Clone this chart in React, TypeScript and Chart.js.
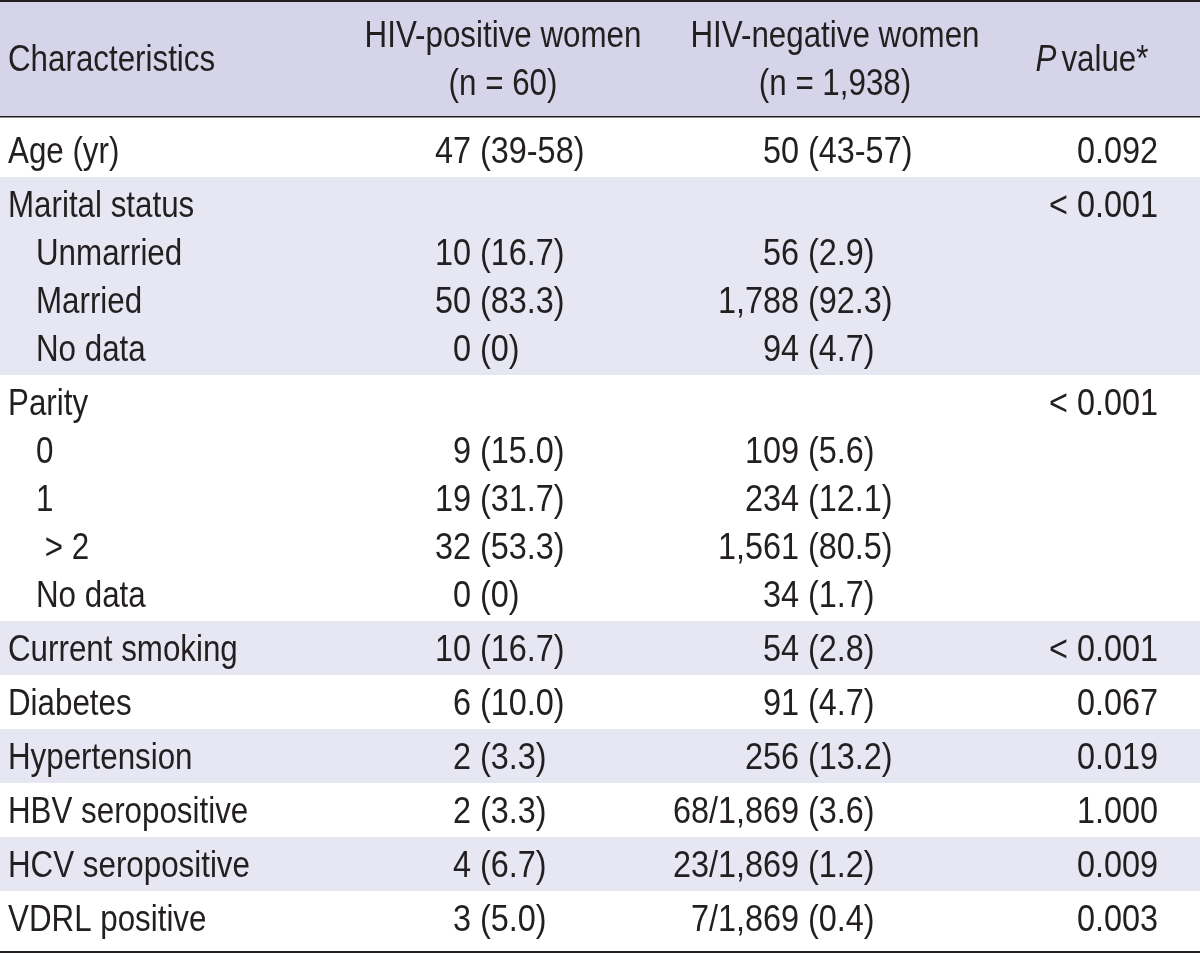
import React, { useEffect, useRef } from "react";
import { Chart, registerables } from "chart.js";

Chart.register(...registerables);

// ---------- data ----------
const headerColumns = ["Characteristics", "HIV-positive women", "HIV-negative women", "P value*"];
const headerSubLines = ["", "(n = 60)", "(n = 1,938)", ""];

const rowLabels = [
  "Age (yr)",
  "Marital status",
  "Unmarried",
  "Married",
  "No data",
  "Parity",
  "0",
  "1",
  " > 2",
  "No data",
  "Current smoking",
  "Diabetes",
  "Hypertension",
  "HBV seropositive",
  "HCV seropositive",
  "VDRL positive",
];
const rowGroups = [0, 1, 1, 1, 1, 2, 2, 2, 2, 2, 3, 4, 5, 6, 7, 8];

const hivPositive = [
  "47 (39-58)", "", "10 (16.7)", "50 (83.3)", "0 (0)", "", "9 (15.0)", "19 (31.7)",
  "32 (53.3)", "0 (0)", "10 (16.7)", "6 (10.0)", "2 (3.3)", "2 (3.3)", "4 (6.7)", "3 (5.0)",
];
const hivNegative = [
  "50 (43-57)", "", "56 (2.9)", "1,788 (92.3)", "94 (4.7)", "", "109 (5.6)", "234 (12.1)",
  "1,561 (80.5)", "34 (1.7)", "54 (2.8)", "91 (4.7)", "256 (13.2)", "68/1,869 (3.6)",
  "23/1,869 (1.2)", "7/1,869 (0.4)",
];
const pValues = [
  "0.092", "< 0.001", "", "", "", "< 0.001", "", "", "", "", "< 0.001", "0.067",
  "0.019", "1.000", "0.009", "0.003",
];

// ---------- layout & style ----------
const W = 1200;
const H = 953;
const HEADER_H = 116;
const BODY_TOP = 123;
const LINE_H = 48;
const GROUP_PAD = 3;
const HEADER_BG = "rgb(213,212,233)";
const ROW_BG = "rgb(231,230,243)";
const INK = "#231f20";
const FONT_PX = 36;
const SX_TEXT = 0.87;
const SX_VAL = 0.9;
const FAMILY = '"Liberation Sans", Arial, sans-serif';

const COL0_X = 8;
const SUB_X = 36;
const COL1_PAREN = 480;
const COL2_PAREN = 808;
const COL3_RIGHT = 1158;
const HEAD_CENTERS = [0, 503, 835, 1092];
const P_GAP = 5;

// group geometry derived from structure
const groupCount = Math.max(...rowGroups) + 1;
const groupLines = Array.from({ length: groupCount }, (_, g) => rowGroups.filter((r) => r === g).length);
const groupTops: number[] = [];
{
  let y = BODY_TOP;
  for (let g = 0; g < groupCount; g++) {
    groupTops.push(y);
    y += GROUP_PAD * 2 + groupLines[g] * LINE_H;
  }
}
const groupBottom = (g: number) => groupTops[g] + GROUP_PAD * 2 + groupLines[g] * LINE_H;
const rowCenters = rowLabels.map((_, i) => {
  const g = rowGroups[i];
  const idx = rowGroups.slice(0, i).filter((r) => r === g).length;
  return groupTops[g] + GROUP_PAD + LINE_H / 2 + idx * LINE_H;
});
const bodyBottom = groupBottom(groupCount - 1) + 6;

function measure(ctx: CanvasRenderingContext2D, text: string, sx: number, italic = false) {
  ctx.font = `${italic ? "italic " : ""}${FONT_PX}px ${FAMILY}`;
  return ctx.measureText(text).width * sx;
}

function drawText(
  ctx: CanvasRenderingContext2D,
  text: string,
  x: number,
  cy: number,
  align: "left" | "right" | "center",
  sx: number = SX_TEXT,
  italic = false
) {
  if (!text) return;
  const w = measure(ctx, text, sx, italic);
  const left = align === "left" ? x : align === "right" ? x - w : x - w / 2;
  ctx.save();
  ctx.translate(left, cy + FONT_PX * 0.358);
  ctx.scale(sx, 1);
  ctx.textAlign = "left";
  ctx.textBaseline = "alphabetic";
  ctx.fillStyle = INK;
  ctx.fillText(text, 0, 0);
  ctx.restore();
}

function drawParenAligned(ctx: CanvasRenderingContext2D, text: string, anchor: number, cy: number) {
  if (!text) return;
  const k = text.indexOf("(");
  if (k < 0) {
    drawText(ctx, text, anchor, cy, "right", SX_VAL);
    return;
  }
  drawText(ctx, text.slice(0, k), anchor, cy, "right", SX_VAL);
  drawText(ctx, text.slice(k), anchor, cy, "left", SX_VAL);
}

const tablePlugin = {
  id: "tableText",
  afterDatasetsDraw(chart: any) {
    const ctx: CanvasRenderingContext2D = chart.ctx;
    const xs = chart.scales.xPos;
    const ys = chart.scales.y;
    const px = (v: number) => xs.getPixelForValue(v);
    const py = (v: number) => ys.getPixelForValue(v);

    // rules
    ctx.save();
    ctx.fillStyle = INK;
    const rule = (y: number, t: number) => ctx.fillRect(px(0), py(y), px(W) - px(0), t);
    rule(0, 2);
    rule(HEADER_H, 1.5);
    rule(bodyBottom, 2);
    ctx.restore();

    // header
    const headMid = HEADER_H / 2;
    drawText(ctx, headerColumns[0], px(COL0_X), py(headMid), "left");
    for (let c = 1; c <= 2; c++) {
      drawText(ctx, headerColumns[c], px(HEAD_CENTERS[c]), py(headMid - LINE_H / 2), "center");
      drawText(ctx, headerSubLines[c], px(HEAD_CENTERS[c]), py(headMid + LINE_H / 2), "center");
    }
    // P value* with italic P
    {
      const full = headerColumns[3];
      const pPart = full.slice(0, 1);
      const rest = full.slice(1).trim();
      const w1 = measure(ctx, pPart, SX_TEXT, true);
      const w2 = measure(ctx, rest, SX_TEXT, false);
      const start = px(HEAD_CENTERS[3]) - (w1 + P_GAP + w2) / 2;
      drawText(ctx, pPart, start, py(headMid), "left", SX_TEXT, true);
      drawText(ctx, rest, start + w1 + P_GAP, py(headMid), "left", SX_TEXT);
    }

    // body
    rowLabels.forEach((label, i) => {
      const g = rowGroups[i];
      const isSub = rowGroups.indexOf(g) !== i;
      const cy = py(rowCenters[i]);
      drawText(ctx, label, px(isSub ? SUB_X : COL0_X), cy, "left");
      drawParenAligned(ctx, hivPositive[i], px(COL1_PAREN), cy);
      drawParenAligned(ctx, hivNegative[i], px(COL2_PAREN), cy);
      drawText(ctx, pValues[i], px(COL3_RIGHT), cy, "right", SX_VAL);
    });
  },
};

export default function App() {
  const ref = useRef<HTMLCanvasElement | null>(null);

  useEffect(() => {
    document.body.style.margin = "0";
    document.body.style.background = "#ffffff";
    if (!ref.current) return;

    const bands: { range: [number, number]; color: string }[] = [
      { range: [0, HEADER_H], color: HEADER_BG },
    ];
    for (let g = 0; g < groupCount; g++) {
      if (g % 2 === 1) bands.push({ range: [groupTops[g], groupBottom(g)], color: ROW_BG });
    }

    const chart = new Chart(ref.current, {
      type: "bar",
      data: {
        labels: ["table"],
        datasets: bands.map((b, i) => ({
          label: `band${i}`,
          data: [b.range] as any,
          backgroundColor: b.color,
          borderWidth: 0,
          grouped: false,
          barPercentage: 1,
          categoryPercentage: 1,
          inflateAmount: 0,
        })) as any,
      },
      options: {
        animation: false,
        responsive: false,
        devicePixelRatio: 1,
        layout: { padding: 0 },
        events: [],
        plugins: {
          legend: { display: false },
          tooltip: { enabled: false },
          title: { display: false },
        },
        scales: {
          x: { type: "category", display: false, offset: true },
          xPos: {
            type: "linear",
            axis: "x",
            position: "bottom",
            display: false,
            offset: false,
            grid: { offset: false },
            min: 0,
            max: W,
          },
          y: { type: "linear", display: false, min: 0, max: H, reverse: true },
        } as any,
      },
      plugins: [tablePlugin],
    });
    return () => chart.destroy();
  }, []);

  return (
    <div style={{ width: W, height: H, position: "relative" }}>
      <canvas ref={ref} width={W} height={H} style={{ display: "block", width: W, height: H }} />
    </div>
  );
}
